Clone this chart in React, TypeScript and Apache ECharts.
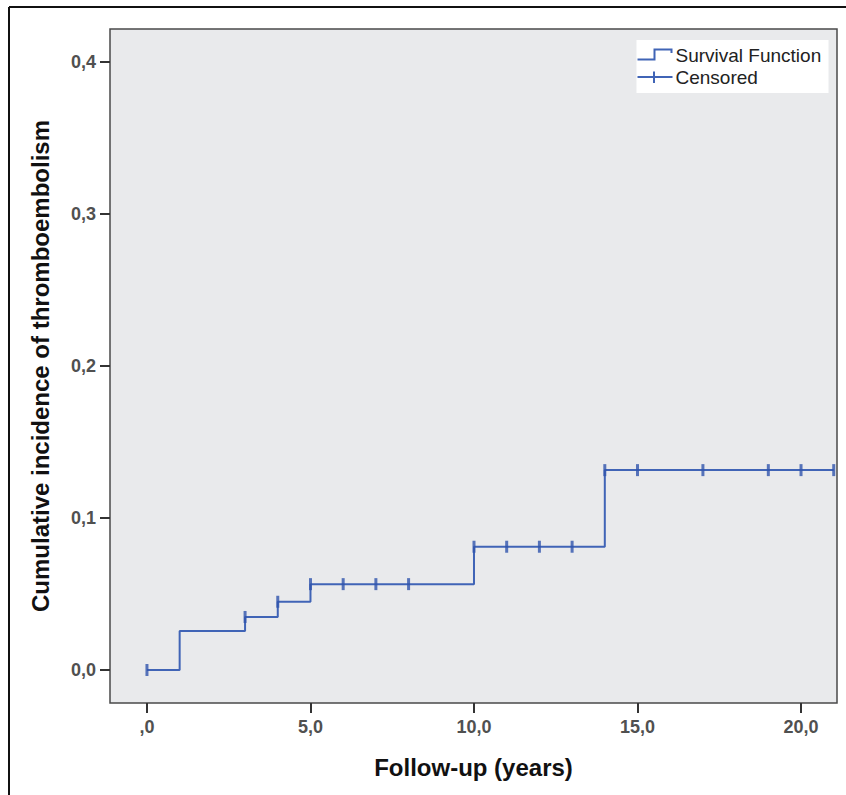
import React, { useEffect, useRef } from "react";
import * as echarts from "echarts";

// Kaplan–Meier style cumulative incidence (step function)
const eventTimes = [0, 1, 3, 4, 5, 10, 14, 21];
const cumIncidence = [0, 0.0256, 0.0349, 0.0449, 0.0565, 0.0811, 0.1315, 0.1315];
const censoredTimes = [0, 3, 4, 5, 6, 7, 8, 10, 11, 12, 13, 14, 15, 17, 19, 20, 21];
const yTicks = [0, 0.1, 0.2, 0.3, 0.4];
const xTicks = [0, 5, 10, 15, 20];

const xLabel = "Follow-up (years)";
const yLabel = "Cumulative incidence of thromboembolism";
const legendItems = ["Survival Function", "Censored"];

const LINE_COLOR = "#4064b6";
const MARK_COLOR = "#2f54ad";

function levelAt(t: number): number {
  let v = cumIncidence[0];
  for (let i = 0; i < eventTimes.length; i++) {
    if (eventTimes[i] <= t) v = cumIncidence[i];
  }
  return v;
}

function fmt(v: number, isX: boolean): string {
  if (isX && v === 0) return ",0";
  return v.toFixed(1).replace(".", ",");
}

export default function App() {
  const ref = useRef<HTMLDivElement>(null);
  useEffect(() => {
    if (!ref.current) return;
    const chart = echarts.init(ref.current, null, { renderer: "svg" });
    const stepData = eventTimes.map((t, i) => [t, cumIncidence[i]]);
    const censData = censoredTimes.map((t) => [t, levelAt(t)]);
    const tickLabelStyle = {
      fontFamily: "Liberation Sans, Arial, sans-serif",
      fontSize: 18,
      fontWeight: "bold" as const,
      color: "#505050",
    };
    const nameStyle = {
      fontFamily: "Liberation Sans, Arial, sans-serif",
      fontSize: 24,
      fontWeight: "bold" as const,
      color: "#111",
    };
    chart.setOption({
      animation: false,
      backgroundColor: "#ffffff",
      grid: {
        left: 110,
        top: 29,
        right: 9,
        bottom: 92,
        show: true,
        backgroundColor: "#e9eaec",
        borderColor: "#4a4a4a",
        borderWidth: 1.5,
      },
      xAxis: {
        type: "value",
        min: -1.13,
        max: 21.1,
        name: xLabel,
        nameLocation: "middle",
        nameGap: 52,
        nameTextStyle: nameStyle,
        axisLine: { show: false, onZero: false },
        splitLine: { show: false },
        axisTick: {
          show: true,
          customValues: xTicks,
          length: 10,
          lineStyle: { color: "#333", width: 2 },
        },
        axisLabel: {
          customValues: xTicks,
          margin: 15,
          formatter: (v: number) => fmt(v, true),
          ...tickLabelStyle,
        },
      },
      yAxis: {
        type: "value",
        min: -0.0217,
        max: 0.4217,
        name: yLabel,
        nameLocation: "middle",
        nameGap: 58,
        nameTextStyle: nameStyle,
        axisLine: { show: false, onZero: false },
        splitLine: { show: false },
        axisTick: {
          show: true,
          customValues: yTicks,
          length: 10,
          lineStyle: { color: "#333", width: 2 },
        },
        axisLabel: {
          customValues: yTicks,
          margin: 14,
          formatter: (v: number) => fmt(v, false),
          ...tickLabelStyle,
        },
      },
      series: [
        {
          type: "line",
          name: legendItems[0],
          step: "end",
          data: stepData,
          showSymbol: false,
          lineStyle: { color: LINE_COLOR, width: 2 },
          z: 2,
        },
        {
          type: "scatter",
          name: legendItems[1],
          data: censData,
          symbol: "rect",
          symbolSize: [3, 12],
          itemStyle: { color: MARK_COLOR },
          z: 3,
        },
      ],
      graphic: [
        // outer frame (top and left edges)
        { type: "line", shape: { x1: 9, y1: 7, x2: 846, y2: 7 }, style: { stroke: "#111", lineWidth: 2 } },
        { type: "line", shape: { x1: 9, y1: 7, x2: 9, y2: 795 }, style: { stroke: "#111", lineWidth: 2 } },
        // legend
        {
          type: "group",
          left: 635,
          top: 40,
          children: [
            { type: "rect", shape: { x: 0, y: 0, width: 192, height: 53 }, style: { fill: "#ffffff" } },
            {
              type: "polyline",
              shape: { points: [[1, 19.5], [18, 19.5], [18, 9.5], [35, 9.5], [35, 13]] },
              style: { stroke: LINE_COLOR, lineWidth: 2, fill: "none" },
            },
            {
              type: "text",
              style: {
                x: 39, y: 15, text: legendItems[0], fill: "#222",
                font: "19px 'Liberation Sans', Arial, sans-serif", textVerticalAlign: "middle",
              },
            },
            { type: "line", shape: { x1: 1, y1: 37, x2: 36, y2: 37 }, style: { stroke: LINE_COLOR, lineWidth: 2 } },
            { type: "line", shape: { x1: 17.5, y1: 31.5, x2: 17.5, y2: 43 }, style: { stroke: LINE_COLOR, lineWidth: 2 } },
            {
              type: "text",
              style: {
                x: 39, y: 37, text: legendItems[1], fill: "#222",
                font: "19px 'Liberation Sans', Arial, sans-serif", textVerticalAlign: "middle",
              },
            },
          ],
        },
      ],
    });
    return () => chart.dispose();
  }, []);
  return (
    <div
      ref={ref}
      style={{ position: "fixed", left: 0, top: 0, width: 846, height: 795 }}
    />
  );
}
